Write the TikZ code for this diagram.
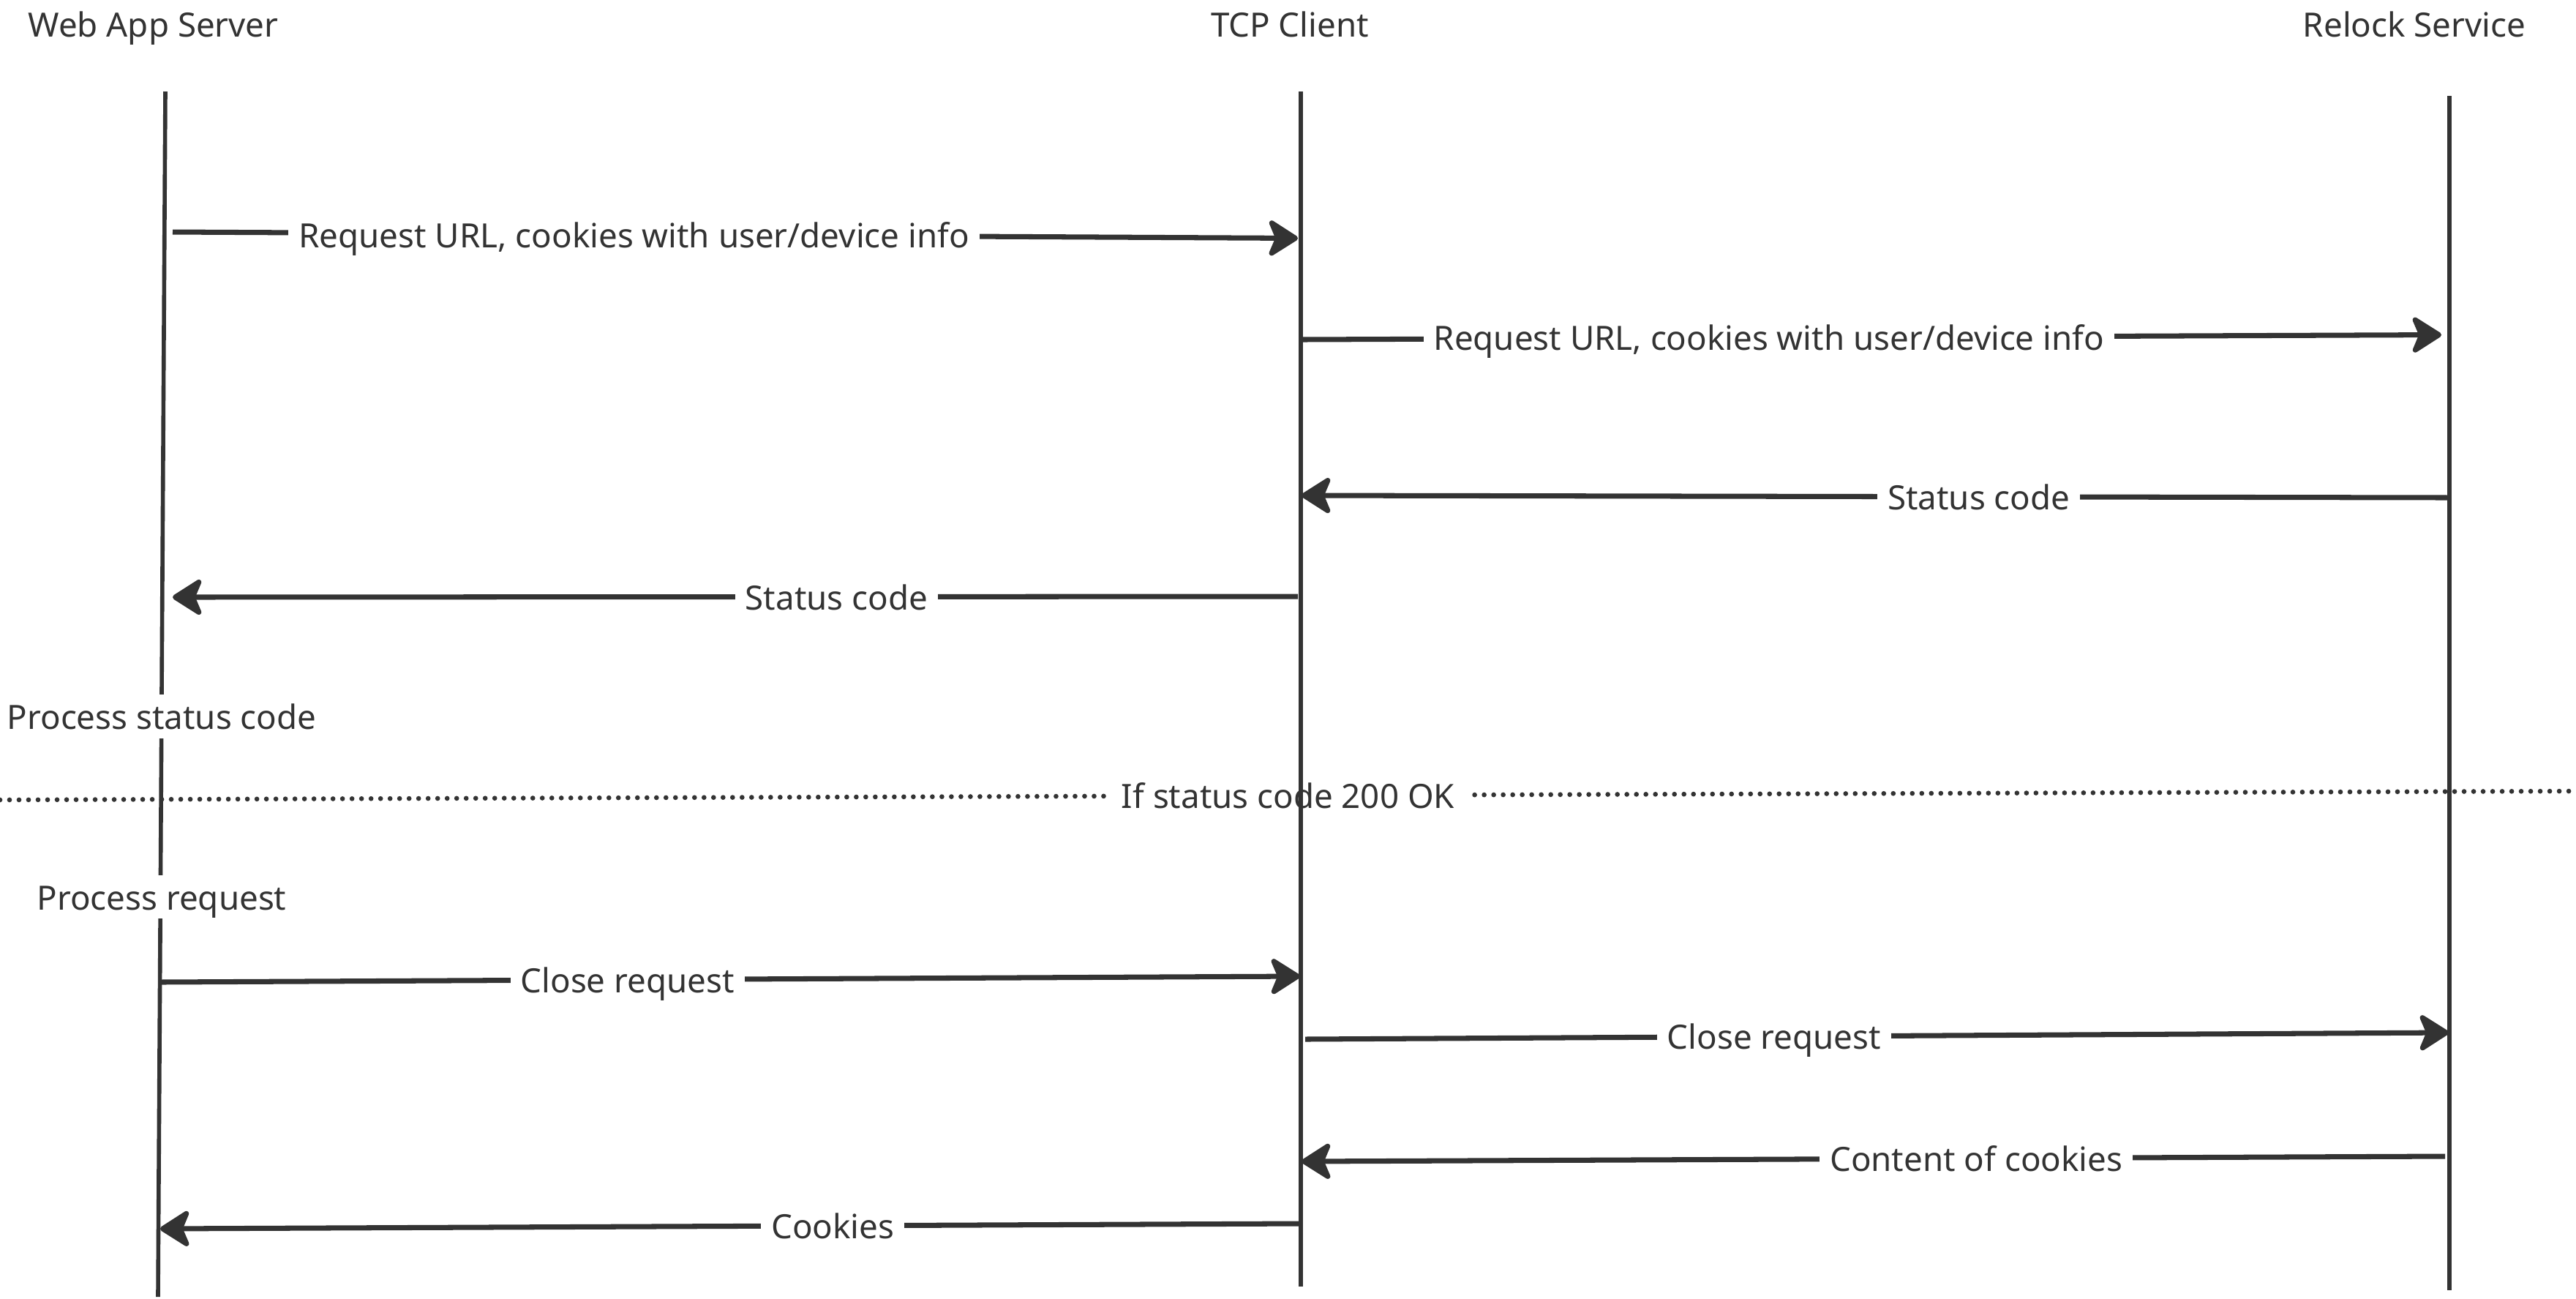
\documentclass[tikz,border=0pt]{standalone}
\usepackage{fontspec}
\setmainfont{Noto Sans}
\usetikzlibrary{arrows.meta}
\definecolor{ink}{HTML}{333333}
\begin{document}
\begin{tikzpicture}[every edge/.style={draw=ink}]
      \tikzset{actor/.style={text=ink, anchor=base, font=\fontsize{13}{15}\selectfont},
               lifeline/.style={draw=ink, line width=1.6pt},
               msg/.style={line width=2pt, -{Stealth[length=4.6mm, width=5.8mm, inset=1.2mm, round]}},
               lbl/.style={pos=.41, fill=white, text=ink, inner xsep=4pt, inner ysep=1pt, text height=10pt, text depth=0pt, font=\fontsize{13}{15}\selectfont},
               note/.style={fill=white, text=ink, inner xsep=2pt, inner ysep=3.5pt, text height=10pt, text depth=0pt, font=\fontsize{13}{15}\selectfont},
               guard/.style={draw=ink, line width=1.9pt, line cap=round, dash pattern=on 0pt off 3.7pt}}
      \useasboundingbox (0,0) rectangle (35.21,-17.74);
%% Actors
      	\node[actor] (web) at (2.095,-0.505) {Web App Server};
      	\node[actor] (tcp) at (17.63,-0.505) {TCP Client};
    	\node[actor] (relock) at (33.00,-0.505) {Relock Service};
%% Lifeline ends
      	\coordinate (webtop) at (2.26,-1.25);
      	\coordinate (webbot) at (2.16,-17.72);
      	\coordinate (tcptop) at (17.78,-1.25);
      	\coordinate (tcpbot) at (17.78,-17.58);
      	\coordinate (reltop) at (33.48,-1.31);
      	\coordinate (relbot) at (33.48,-17.63);
%% Guard line
      	\coordinate (gl) at (0,-10.93);
      	\coordinate (gr) at (35.21,-10.81);
		\path[guard] (gl) edge node[midway, fill=white, text=ink, inner xsep=5pt, text height=10pt, text depth=0pt, font=\fontsize{13}{15}\selectfont] {If status code 200 OK} (gr);
%Lifelines
		\path[lifeline] (webtop) edge (webbot);
		\path[lifeline] (tcptop) edge (tcpbot);
		\path[lifeline] (reltop) edge (relbot);
%% Notes
      	\node[note] (psc) at (2.21,-9.79) {Process status code};
      	\node[note] (preq) at (2.21,-12.255) {Process request};
%% Message ends
      	\coordinate (m1a) at (2.36,-3.17);   \coordinate (m1b) at (17.74,-3.255);
      	\coordinate (m2a) at (17.79,-4.64);  \coordinate (m2b) at (33.37,-4.575);
      	\coordinate (m3a) at (33.48,-6.80);  \coordinate (m3b) at (17.79,-6.77);
      	\coordinate (m4a) at (17.74,-8.15);  \coordinate (m4b) at (2.36,-8.16);
      	\coordinate (m5a) at (2.19,-13.42);  \coordinate (m5b) at (17.77,-13.34);
      	\coordinate (m6a) at (17.84,-14.20); \coordinate (m6b) at (33.47,-14.11);
      	\coordinate (m7a) at (33.42,-15.80); \coordinate (m7b) at (17.79,-15.87);
      	\coordinate (m8a) at (17.77,-16.72); \coordinate (m8b) at (2.19,-16.79);
%Messages
		\path[msg] (m1a) edge node[lbl] {Request URL, cookies with user/device info} (m1b);
		\path[msg] (m2a) edge node[lbl] {Request URL, cookies with user/device info} (m2b);
		\path[msg] (m3a) edge node[lbl] {Status code} (m3b);
		\path[msg] (m4a) edge node[lbl] {Status code} (m4b);
		\path[msg] (m5a) edge node[lbl] {Close request} (m5b);
		\path[msg] (m6a) edge node[lbl] {Close request} (m6b);
		\path[msg] (m7a) edge node[lbl] {Content of cookies} (m7b);
		\path[msg] (m8a) edge node[lbl] {Cookies} (m8b);
	\end{tikzpicture}
\end{document}
